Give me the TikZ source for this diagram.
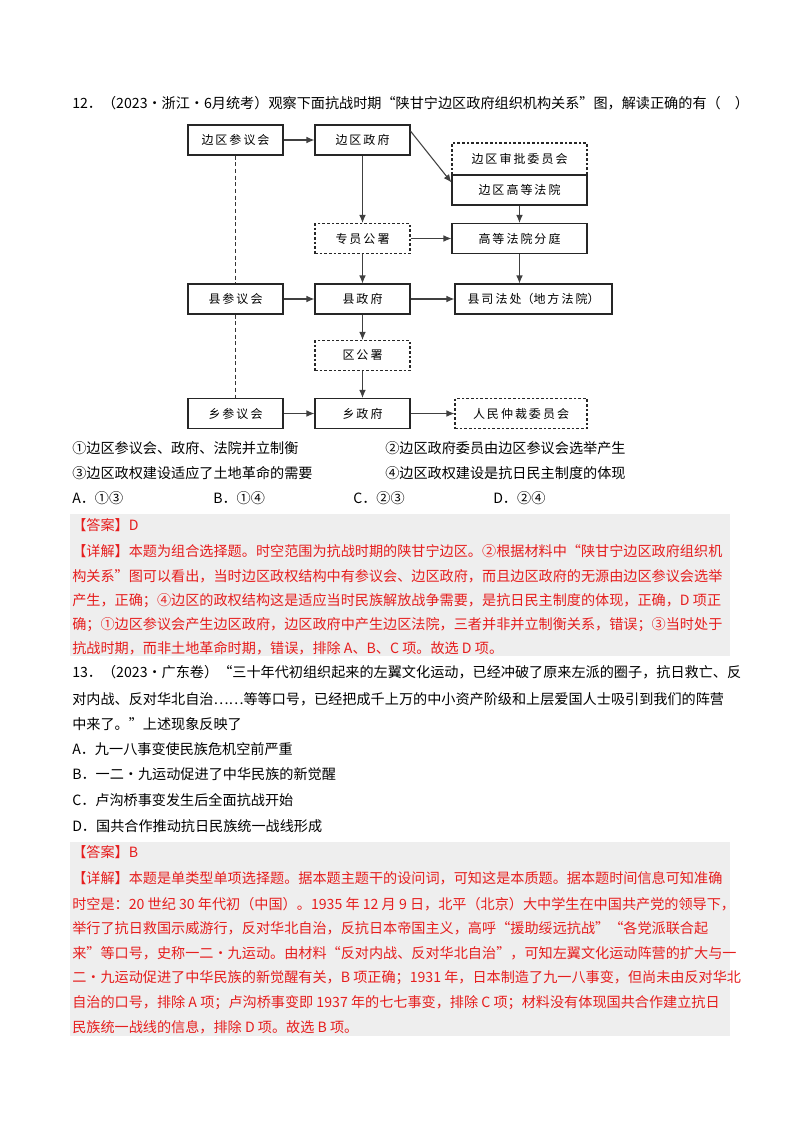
\documentclass[tikz,border=0pt]{standalone}
\usepackage{fontspec}
\setmainfont{Noto Sans CJK SC}
\usetikzlibrary{arrows.meta}
\definecolor{ansred}{RGB}{230,30,30}
\definecolor{ansbg}{RGB}{238,238,238}
\begin{document}
\begin{tikzpicture}[x=0.75pt,y=-0.75pt,
  bx/.style={draw=black!85,line width=0.8pt,minimum width=71.25pt,minimum height=22.5pt,inner sep=0pt,font=\fontsize{9}{10}\selectfont},
  dbx/.style={bx,dash pattern=on 2pt off 1.5pt},
  arr/.style={draw=black!75,line width=0.8pt,-{Latex[length=6pt,width=5pt]}},
  dln/.style={draw=black!80,line width=0.8pt,dash pattern=on 3pt off 2pt},
  txt/.style={anchor=west,inner sep=0pt,font=\fontsize{10.6}{12}\selectfont},
  rtxt/.style={txt,text=ansred}]
\useasboundingbox (0,0) rectangle (800,1132);
\fill[white] (0,0) rectangle (800,1132);
% question 12
\node[txt] (q12) at (72,103) {12．（2023·浙江·6月统考）观察下面抗战时期“陕甘宁边区政府组织机构关系”图，解读正确的有（\quad）};
% diagram
\node[bx] (bcy) at (235.5,140) {边\,区\,参\,议\,会};
\node[bx] (bzf) at (362.5,140) {边\,区\,政\,府};
\node[dbx,minimum width=101.25pt,minimum height=24pt] (spw) at (519.5,159) {边\,区\,审\,批\,委\,员\,会};
\node[bx,minimum width=101.25pt] (gdfy) at (519.5,190) {边\,区\,高\,等\,法\,院};
\node[dbx] (zygs) at (362.5,238.5) {专\,员\,公\,署};
\node[bx,minimum width=101.25pt] (fyft) at (519.5,238.5) {高\,等\,法\,院\,分\,庭};
\node[bx] (xcy) at (235.5,299) {县\,参\,议\,会};
\node[bx] (xzf) at (362.5,299) {县\,政\,府};
\node[bx,minimum width=117.75pt] (xsf) at (533.5,299) {县\,司\,法\,处（地\,方\,法\,院）};
\node[dbx] (qgs) at (362.5,355.5) {区\,公\,署};
\node[bx] (ycy) at (235.5,413.5) {乡\,参\,议\,会};
\node[bx] (yzf) at (362.5,413.5) {乡\,政\,府};
\node[dbx,minimum width=99pt] (zcw) at (521,413.5) {人\,民\,仲\,裁\,委\,员\,会};
\draw[arr] (bcy) -- (bzf);
\draw[arr] (bzf) -- (zygs);
\draw[arr] (zygs) -- (xzf);
\draw[arr] (xzf) -- (qgs);
\draw[arr] (qgs) -- (yzf);
\draw[arr] (zygs) -- (fyft);
\draw[arr] (gdfy) -- (fyft);
\draw[arr] (fyft.south) -- (fyft.south |- xsf.north);
\draw[arr] (xcy) -- (xzf);
\draw[arr] (xzf) -- (xsf);
\draw[arr] (ycy) -- (yzf);
\draw[arr] (yzf) -- (zcw);
\draw[arr] ([yshift=-5pt]bzf.north east) -- ([yshift=-6pt]gdfy.north west);
\draw[dln] (bcy) -- (xcy);
\draw[dln] (xcy) -- (ycy);
% options
\node[txt] (o1) at (72,448) {①边区参议会、政府、法院并立制衡};
\node[txt] (o2) at (385,448) {②边区政府委员由边区参议会选举产生};
\node[txt] (o3) at (72,473) {③边区政权建设适应了土地革命的需要};
\node[txt] (o4) at (385,473) {④边区政权建设是抗日民主制度的体现};
\node[txt] (oa) at (72,498) {A．①③};
\node[txt] (ob) at (213,498) {B．①④};
\node[txt] (oc) at (353,498) {C．②③};
\node[txt] (od) at (493,498) {D．②④};
% answer 1
\fill[ansbg] (70,514) rectangle (730,656);
\node[rtxt] at (72,525) {【答案】D};
\node[rtxt] at (72,551) {【详解】本题为组合选择题。时空范围为抗战时期的陕甘宁边区。②根据材料中“陕甘宁边区政府组织机};
\node[rtxt] at (72,576) {构关系”图可以看出，当时边区政权结构中有参议会、边区政府，而且边区政府的无源由边区参议会选举};
\node[rtxt] at (72,601) {产生，正确；④边区的政权结构这是适应当时民族解放战争需要，是抗日民主制度的体现，正确，D 项正};
\node[rtxt] at (72,625) {确；①边区参议会产生边区政府，边区政府中产生边区法院，三者并非并立制衡关系，错误；③当时处于};
\node[rtxt] at (72,648) {抗战时期，而非土地革命时期，错误，排除 A、B、C 项。故选 D 项。};
% question 13
\node[txt] at (72,672) {13．（2023·广东卷）“三十年代初组织起来的左翼文化运动，已经冲破了原来左派的圈子，抗日救亡、反};
\node[txt] at (72,699) {对内战、反对华北自治……等等口号，已经把成千上万的中小资产阶级和上层爱国人士吸引到我们的阵营};
\node[txt] at (72,724) {中来了。”上述现象反映了};
\node[txt] at (72,749) {A．九一八事变使民族危机空前严重};
\node[txt] at (72,774) {B．一二·九运动促进了中华民族的新觉醒};
\node[txt] at (72,800) {C．卢沟桥事变发生后全面抗战开始};
\node[txt] at (72,826) {D．国共合作推动抗日民族统一战线形成};
% answer 2
\fill[ansbg] (70,842) rectangle (730,1036);
\node[rtxt] at (72,852) {【答案】B};
\node[rtxt] at (72,878) {【详解】本题是单类型单项选择题。据本题主题干的设问词，可知这是本质题。据本题时间信息可知准确};
\node[rtxt] at (72,904) {时空是：20 世纪 30 年代初（中国）。1935 年 12 月 9 日，北平（北京）大中学生在中国共产党的领导下，};
\node[rtxt] at (72,928) {举行了抗日救国示威游行，反对华北自治，反抗日本帝国主义，高呼“援助绥远抗战”“各党派联合起};
\node[rtxt] at (72,953) {来”等口号，史称一二·九运动。由材料“反对内战、反对华北自治”，可知左翼文化运动阵营的扩大与一};
\node[rtxt] at (72,978) {二·九运动促进了中华民族的新觉醒有关，B 项正确；1931 年，日本制造了九一八事变，但尚未由反对华北};
\node[rtxt] at (72,1003) {自治的口号，排除 A 项；卢沟桥事变即 1937 年的七七事变，排除 C 项；材料没有体现国共合作建立抗日};
\node[rtxt] at (72,1027) {民族统一战线的信息，排除 D 项。故选 B 项。};
\end{tikzpicture}
\end{document}
